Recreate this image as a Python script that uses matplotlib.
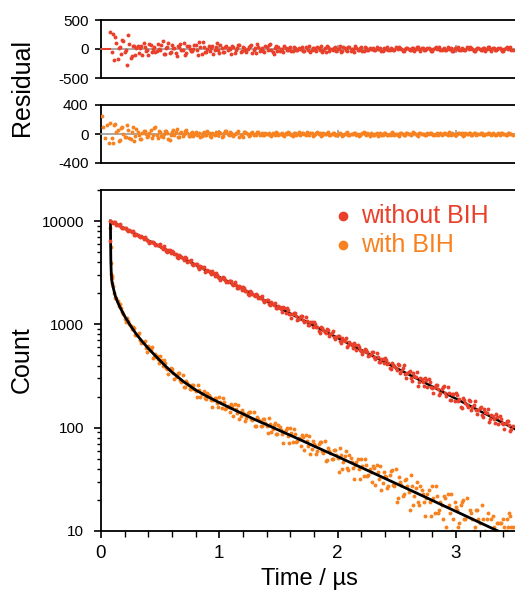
import numpy as np
import matplotlib
matplotlib.use("Agg")
import matplotlib.pyplot as plt
from matplotlib.ticker import MultipleLocator, LogLocator, NullFormatter, FixedLocator

plt.rcParams['font.family'] = ['Liberation Sans', 'DejaVu Sans']
plt.rcParams['axes.unicode_minus'] = False

RED = '#E8402A'
ORANGE = '#F7821F'

# time channels (µs): channel set A starts at 0.08, set B is offset by half a step
t_start = 0.08
t_step = 0.02
n_a = 171
n_b = 170

# ---------------- decay without BIH (counts) ----------------
t_without_early = [0.075]
count_without_early = [6400]
count_without_a = [
    10000, 9597, 9701, 9184, 9334, 8509, 8588, 8128, 8216, 7872,
    7357, 7518, 7188, 7234, 6713, 6760, 6424, 6316, 6283, 5816,
    5872, 5959, 5387, 5419, 5055, 5210, 5175, 4762, 4467, 4689,
    4458, 4235, 4363, 4074, 4228, 3731, 3836, 3580, 3687, 3506,
    3210, 3361, 3185, 3260, 2954, 3026, 2842, 2808, 2823, 2548,
    2620, 2649, 2394, 2408, 2247, 2316, 2301, 2117, 1986, 2085,
    1982, 1883, 1939, 1811, 1879, 1659, 1705, 1591, 1640, 1558,
    1427, 1512, 1408, 1488, 1285, 1364, 1251, 1249, 1282, 1100,
    1174, 1215, 1046, 1077, 976, 1046, 1052, 934, 854, 944,
    882, 825, 882, 802, 867, 717, 766, 694, 742, 695,
    610, 672, 625, 661, 571, 607, 556, 555, 570, 489,
    522, 540, 466, 479, 435, 465, 468, 415, 379, 419,
    392, 359, 404, 354, 406, 306, 345, 300, 339, 311,
    255, 304, 275, 306, 246, 275, 243, 246, 261, 207,
    235, 252, 202, 215, 187, 212, 217, 183, 160, 192,
    175, 160, 181, 157, 181, 136, 154, 134, 151, 138,
    113, 134, 122, 136, 109, 122, 108, 110, 116, 92,
    104]
count_without_b = [
    9806, 9875, 9158, 9227, 8765, 8619, 8576, 7934, 8011, 8003,
    7408, 7374, 6975, 7055, 6964, 6524, 6194, 6345, 6078, 5820,
    5887, 5560, 5776, 5090, 5236, 4882, 5034, 4784, 4376, 4587,
    4345, 4450, 4028, 4130, 3876, 3831, 3853, 3475, 3575, 3616,
    3266, 3287, 3065, 3162, 3141, 2889, 2708, 2846, 2705, 2568,
    2648, 2471, 2567, 2262, 2328, 2171, 2239, 2127, 1945, 2039,
    1932, 1978, 1791, 1836, 1723, 1703, 1713, 1544, 1590, 1607,
    1452, 1470, 1331, 1428, 1436, 1274, 1163, 1288, 1205, 1126,
    1205, 1094, 1184, 978, 1045, 947, 1015, 950, 832, 918,
    853, 903, 779, 827, 758, 757, 778, 666, 712, 737,
    634, 653, 592, 634, 638, 566, 517, 573, 535, 501,
    536, 486, 527, 435, 465, 421, 451, 422, 369, 408,
    379, 417, 335, 375, 331, 336, 357, 282, 320, 344,
    275, 293, 253, 289, 295, 248, 217, 260, 239, 217,
    247, 215, 248, 185, 210, 182, 207, 189, 154, 185,
    167, 186, 150, 167, 148, 150, 159, 126, 143, 153,
    122, 129, 112, 128, 131, 111, 97, 116, 106, 97]

# ---------------- decay with BIH (counts) ----------------
t_with_early = [0.082, 0.085, 0.088, 0.092, 0.096]
count_with_early = [5600, 3900, 3100, 2800, 2500]
count_with_a = [
    8600, 2370, 1820, 1700, 1560, 1310, 1120, 1150, 1015, 902,
    916, 792, 825, 657, 676, 593, 614, 559, 477, 517,
    460, 489, 392, 420, 368, 363, 372, 298, 325, 339,
    274, 247, 285, 261, 237, 260, 229, 257, 198, 219,
    193, 218, 199, 159, 195, 175, 197, 156, 176, 155,
    158, 169, 131, 152, 165, 129, 140, 117, 139, 143,
    119, 103, 127, 116, 105, 121, 105, 123, 90, 106,
    87, 106, 95, 71, 95, 83, 99, 73, 87, 74,
    77, 85, 61, 75, 84, 62, 69, 56, 69, 73,
    57, 48, 64, 57, 50, 61, 51, 63, 40, 53,
    41, 54, 47, 32, 47, 40, 50, 34, 44, 35,
    37, 43, 28, 37, 43, 29, 34, 26, 35, 39,
    27, 19, 33, 28, 23, 32, 24, 35, 18, 26,
    19, 27, 23, 14, 23, 19, 27, 15, 22, 16,
    18, 22, 11, 18, 23, 13, 17, 11, 18, 20,
    13, 8, 16, 13, 11, 16, 12, 18, 8, 13,
    9, 13, 11, 10, 12, 12, 13, 10, 11, 14,
    11]
count_with_b = [
    2916, 2003, 1806, 1501, 1454, 1273, 1066, 1079, 960, 949,
    798, 813, 701, 681, 689, 544, 585, 602, 481, 493,
    422, 457, 454, 379, 330, 376, 339, 307, 335, 292,
    324, 248, 272, 238, 261, 239, 199, 230, 210, 229,
    189, 207, 185, 187, 196, 160, 179, 194, 152, 164,
    141, 163, 168, 140, 121, 149, 135, 123, 142, 122,
    143, 105, 121, 104, 121, 110, 89, 109, 98, 111,
    87, 102, 86, 90, 99, 71, 88, 98, 72, 80,
    66, 81, 85, 67, 56, 75, 66, 59, 72, 60,
    74, 49, 60, 50, 61, 54, 37, 55, 47, 59,
    39, 51, 41, 44, 50, 32, 43, 50, 34, 40,
    30, 41, 44, 32, 25, 37, 33, 27, 38, 28,
    40, 21, 30, 22, 31, 27, 16, 27, 22, 30,
    18, 25, 19, 21, 25, 14, 21, 27, 15, 19,
    13, 21, 23, 15, 10, 19, 16, 12, 19, 13,
    21, 9, 15, 10, 16, 13, 7, 13, 10, 15,
    8, 14, 9, 12, 12, 6, 11, 13, 15, 11]

# ---------------- fitted curves ----------------
fit_without_t = [0.08, 3.5]
fit_without = [10000, 97]
fit_with_t = [0.08, 0.081, 0.083, 0.086, 0.09, 0.10, 0.12, 0.14, 0.16, 0.20,
              0.25, 0.30, 0.35, 0.40, 0.45, 0.50, 0.55, 0.60, 0.70, 0.80,
              0.90, 1.00, 1.10, 1.20, 1.30, 1.40, 1.50, 1.60, 1.70, 1.80,
              1.90, 2.00, 2.10, 2.20, 2.30, 2.40, 2.50, 2.60, 2.70, 2.80,
              2.90, 3.00, 3.10, 3.20, 3.30, 3.40, 3.50]
fit_with = [10000, 6500, 4300, 3300, 2700, 2350, 1900, 1650, 1470, 1200,
            970, 800, 680, 585, 510, 445, 390, 345, 278, 232,
            200, 175, 154, 136, 120, 107, 95, 84.5, 75, 66.5,
            59, 52.5, 46.5, 41.2, 36.5, 32.3, 28.6, 25.3, 22.4, 19.8,
            17.5, 15.5, 13.7, 12.1, 10.7, 9.5, 8.4]

# ---------------- residuals ----------------
resid_without_a = [
    300, 260, 200, -170, 40, 150, -60, -270, 90, -120, 60,
    21, -77, 56, 105, -28, -112, 63, 7, -49, 84,
    -14, 140, -91, 35, -63, 70, 14, -126, 42, -21,
    98, -70, 49, -35, 0, 77, -98, 28, 119, -56,
    5, -35, 60, -10, 100, -65, 25, -45, 50, 10,
    -90, 30, -15, 70, -50, 35, -25, 0, 55, -70,
    20, 85, -40, 15, -55, 40, 75, -20, -80, 45,
    30, 6, -54, 18, -9, 42, -30, 21, -15, 0,
    33, -42, 12, 51, -24, 9, -33, 24, 45, -12,
    -48, 27, 3, -21, 36, -6, 60, -39, 15, -27,
    30, 6, -54, 18, -9, 42, -30, 21, -15, 0,
    14, -10, 0, 22, -28, 8, 34, -16,
    6, -22, 16, 30, -8, -32, 18, 2, -14, 24,
    -4, 40, -26, 10, -18, 20, 4, -36, 12, -6,
    28, -20, 14, -10, 0, 22, -28, 8, 34, -16,
    6, -22, 16, 30, -8, -32, 18, 2, -14, 24,
    -4, 40, -26, 10, -18, 20, 4, -36, 12, -6,
    28, -20]
resid_without_b = [
    -48, -192, 108, 12, -84, 144, -24, 240, -156, 60, -108,
    60, 12, -108, 36, -18, 84, -60, 42, -30, 0,
    66, -84, 24, 102, -48, 18, -66, 48, 90, -24,
    -96, 54, 6, -42, 72, -12, 120, -78, 30, -54,
    45, 9, -81, 27, -14, 63, -45, 32, -23, 0,
    50, -63, 18, 77, -36, 14, -50, 36, 68, -18,
    -72, 41, 5, -32, 54, -9, 90, -59, 23, -41,
    -30, -6, 54, -18, 9, -42, 30, -21, 15, 0,
    -33, 42, -12, -51, 24, -9, 33, -24, -45, 12,
    48, -27, -3, 21, -36, 6, -60, 39, -15, 27,
    -30, -6, 54, -18, 9, -42, 30, -21, 15, 0,
    -16, 34, 8, -28, 22, 0, -10, 14, -20, 28,
    -6, 12, -36, 4, 20, -18, 10, -26, 40, -4,
    24, -14, 2, 18, -32, -8, 30, 16, -22, 6,
    -16, 34, 8, -28, 22, 0, -10, 14, -20, 28,
    -6, 12, -36, 4, 20, -18, 10, -26, 40, -4,
    24, -14, 2, 18, -32, -8, 30, 16, -22]
resid_with_early_t = [0.005, 0.015, 0.03, 0.05, 0.065]
resid_with_early = [250, 90, -60, 120, -130]
resid_with_a = [
    150, -120, 140, 60, -80, 100, -40, 120, -60, 30, -90,
    68, -18, -72, 40, 4, -32, 54, -9, 90, -58,
    22, -40, 45, 9, -81, 27, -14, 63, -45, 32,
    -5, 50, -32, 12, -22, 25, 5, -45, 15, -8,
    35, -25, 18, -12, 0, 28, -35, 10, 42, -20,
    8, -28, 20, 38, -10, -40, 22, 2, -18, 30,
    -4, 21, -15, 10, -8, 0, 16, -21, 6, 26, -12,
    4, -16, 12, 22, -6, -24, 14, 2, -10, 18,
    -3, 30, -20, 8, -14, 15, 3, -27, 9, -4,
    21, -15, 10, -8, 0, 16, -21, 6, 26, -12,
    -4, 16, -12, -22, 6, 24, -14, -2, 10, -18,
    3, -30, 20, -8, 14, -15, -3, 27, -9, 4,
    -21, 15, -10, 8, 0, -16, 21, -6, -26, 12,
    4, -13, 10, 18, -5, -19, 11, 1, -8, 14,
    -2, 24, -16, 6, -11, 12, 2, -22, 7, -4,
    17, -12, 8, -6, 0, 13, -17, 5, 20, -10,
    5, -12, 9, 15, -6, -14, 8, 3, -10]
resid_with_b = [
    -56, 119, 28, -98, 77, 0, -35, 49, -70, 98, -21,
    24, -72, 8, 40, -36, 20, -52, 80, -8, 48,
    -28, 4, 36, -64, -16, 60, 32, -44, 12, -32,
    37, 9, -31, 24, 0, -11, 15, -22, 31, -7,
    13, -40, 4, 22, -20, 11, -29, 44, -4, 26,
    -15, 2, 20, -35, -9, 33, 18, -24, 7, -18,
    -11, 24, 6, -20, 15, 0, -7, 10, -14, 20,
    -4, 8, -25, 3, 14, -13, 7, -18, 28, -3,
    17, -10, 1, 13, -22, -6, 21, 11, -15, 4,
    9, -19, -5, 16, -12, 0, 6, -8, 11, -16,
    3, -6, 20, -2, -11, 10, -6, 14, -22, 2,
    -14, 8, -1, -10, 18, 5, -17, -9, 12, -3,
    -8, 17, 4, -14, 11, 0, -5, 7, -10, 14,
    -3, 6, -18, 2, 10, -9, 5, -13, 20, -2,
    12, -7, 1, 9, -15, -4, 15, 8, -11, 3,
    10, -13, 7, -18, 5, 14, -9, 0, 11, -6,
    16, -12, 3, -20, 8, 4, -15, 12, -4]

x_ticks = [0, 1, 2, 3]
x_ticklabels = ['0', '1', '2', '3']
y_ticks = [10, 100, 1000, 10000]
y_ticklabels = ['10', '100', '1000', '10000']
labels = ['without BIH', 'with BIH']

t_a = np.round(t_start + t_step * np.arange(n_a), 4)
t_b = np.round(t_start + t_step / 2 + t_step * np.arange(n_b), 4)

W, H = 515, 595
fig = plt.figure(figsize=(W / 100, H / 100), dpi=100)
L = 101 / W
AW = 414 / W
ax1 = fig.add_axes([L, 1 - 78 / H, AW, 58 / H])
ax2 = fig.add_axes([L, 1 - 163 / H, AW, 58 / H])
ax3 = fig.add_axes([L, 1 - 531 / H, AW, 341 / H])

ms = 2.8
kw = dict(ls='none', marker='o', ms=ms, mew=0)

# residual panels
for ax, lim, ticks in ((ax1, 500, [-500, 0, 500]), (ax2, 400, [-400, 0, 400])):
    ax.set_xlim(0, 3.5)
    ax.set_ylim(-lim, lim)
    ax.set_yticks(ticks)
    ax.set_yticklabels([str(v) for v in ticks], fontsize=11)
    ax.spines['right'].set_visible(False)
    ax.spines['bottom'].set_position(('data', 0))
    ax.spines['bottom'].set_color('#9a9a9a')
    ax.spines['bottom'].set_linewidth(1.2)
    ax.spines['top'].set_linewidth(1.3)
    ax.spines['left'].set_linewidth(1.3)
    ax.axhline(-lim, color='black', lw=1.3, clip_on=False, zorder=5)
    ax.set_xticks(x_ticks)
    ax.tick_params(axis='x', direction='inout', length=6, width=1.2, color='#9a9a9a',
                   labelbottom=False)
    ax.tick_params(axis='y', direction='out', length=4, width=1.2, pad=5)
    ax.patch.set_alpha(0)

ax1.plot([0, t_start], [0, 0], color=RED, lw=1.5, zorder=3)
ax1.plot(t_a, resid_without_a, color=RED, zorder=4, **kw)
ax1.plot(t_b, resid_without_b, color=RED, zorder=4, **kw)
ax2.plot(resid_with_early_t, resid_with_early, color=ORANGE, zorder=4, **kw)
ax2.plot(t_a, resid_with_a, color=ORANGE, zorder=4, **kw)
ax2.plot(t_b, resid_with_b, color=ORANGE, zorder=4, **kw)

# main decay panel
ax3.set_yscale('log')
ax3.set_xlim(0, 3.5)
ax3.set_ylim(10, 20000)
ax3.plot(t_with_early, count_with_early, color=ORANGE, zorder=2, **kw)
ax3.plot(t_a, count_with_a, color=ORANGE, zorder=2, **kw)
ax3.plot(t_b, count_with_b, color=ORANGE, zorder=2, **kw)
ax3.plot(fit_with_t, fit_with, '-', color='black', lw=2.0, zorder=3)
ax3.plot(fit_without_t, fit_without, '-', color='black', lw=1.8, zorder=3)
ax3.plot(t_without_early, count_without_early, color=RED, zorder=4, **kw)
ax3.plot(t_a, count_without_a, color=RED, zorder=4, **kw)
ax3.plot(t_b, count_without_b, color=RED, zorder=4, **kw)

ax3.set_xticks(x_ticks)
ax3.set_xticklabels(x_ticklabels, fontsize=13.5)
ax3.xaxis.set_minor_locator(MultipleLocator(0.2))
ax3.yaxis.set_major_locator(FixedLocator(y_ticks))
ax3.set_yticklabels(y_ticklabels, fontsize=11)
ax3.yaxis.set_minor_locator(LogLocator(base=10, subs=np.arange(2, 10)))
ax3.yaxis.set_minor_formatter(NullFormatter())
ax3.spines['right'].set_visible(False)
for s in ('top', 'left', 'bottom'):
    ax3.spines[s].set_linewidth(1.3)
ax3.tick_params(axis='x', which='major', direction='out', length=5, width=1.2, pad=5)
ax3.tick_params(axis='x', which='minor', direction='out', length=4, width=1.0)
ax3.tick_params(axis='y', which='major', direction='out', length=5, width=1.2, pad=7)
ax3.tick_params(axis='y', which='minor', direction='out', length=3, width=1.0)

# legend
for i, (lab, col) in enumerate(zip(labels, [RED, ORANGE])):
    y = 0.924 - i * 0.086
    ax3.plot([0.585], [y], 'o', color=col, ms=7, mew=0, transform=ax3.transAxes,
             clip_on=False, zorder=6)
    ax3.text(0.627, y, lab, color=col, fontsize=18, va='center', ha='left',
             transform=ax3.transAxes)

fig.text(22 / W, 1 - 87 / H, 'Residual', rotation=90, fontsize=18,
         ha='center', va='center')
fig.text(22 / W, 1 - 360 / H, 'Count', rotation=90, fontsize=18,
         ha='center', va='center')
fig.text(309 / W, 1 - 579 / H, 'Time / µs', fontsize=17, ha='center', va='center')

fig.savefig('out.png', dpi=100)
